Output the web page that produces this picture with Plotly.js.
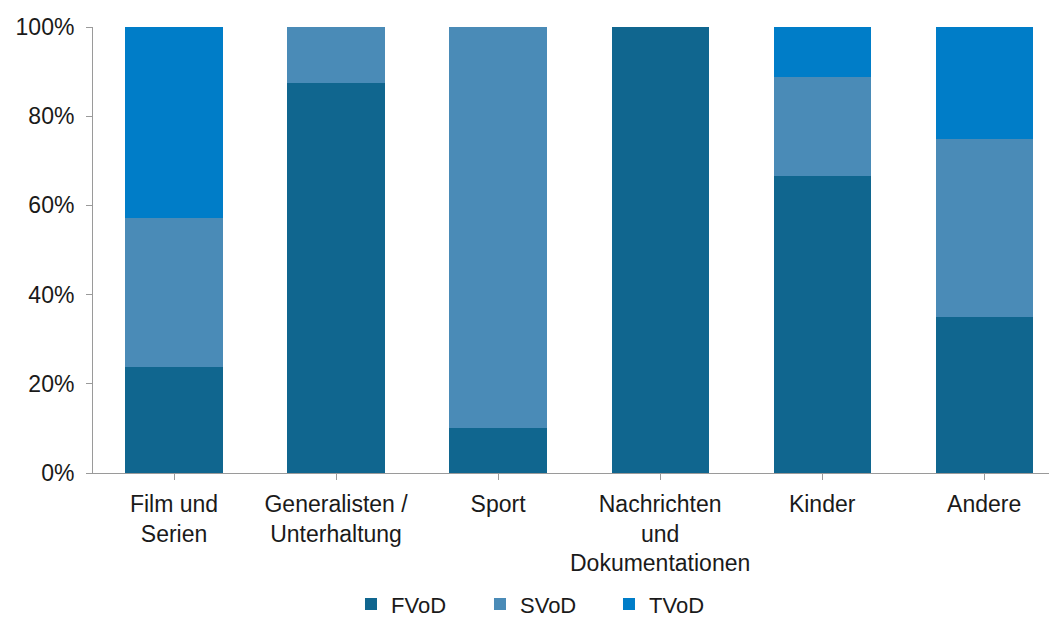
<!DOCTYPE html>
<html><head><meta charset="utf-8">
<script src="https://cdn.plot.ly/plotly-3.0.1.min.js"></script>
<style>body{margin:0;background:#fff}#c{width:1049px;height:619px}</style>
</head><body><div id="c"></div>
<script>
var categories = ["Film und<br>Serien","Generalisten /<br>Unterhaltung","Sport","Nachrichten<br>und<br>Dokumentationen","Kinder","Andere"];
var fvod = [23.8, 87.5, 10, 100, 66.7, 35];
var svod = [33.3, 12.5, 90, 0, 22.2, 40];
var tvod = [42.9, 0, 0, 0, 11.1, 25];
var seriesNames = ["FVoD","SVoD","TVoD"];
var colors = ["#10668F","#4A8BB7","#007DC8"];
var yTicks = [0,20,40,60,80,100];
var yTickText = ["0%","20%","40%","60%","80%","100%"];

var font = {family:"Liberation Sans, Arial, sans-serif", size:23, color:"#1a1a1a"};
var legendFont = {family:"Liberation Sans, Arial, sans-serif", size:22, color:"#1a1a1a"};
var data = [fvod, svod, tvod].map(function(v,i){
  return {type:"bar", x:categories.map(function(_,k){return k;}), y:v, name:seriesNames[i],
    marker:{color:colors[i], line:{width:0}}, hoverinfo:"y+name"};
});
var layout = {
  width:1049, height:619, barmode:"stack", bargap:0.4,
  margin:{l:93, r:0, t:27, b:146, autoexpand:false},
  paper_bgcolor:"#fff", plot_bgcolor:"#fff", font:font, showlegend:true,
  xaxis:{range:[-0.5,5.4], tickmode:"array", tickvals:[0,1,2,3,4,5], ticktext:categories,
    showgrid:false, zeroline:false, showline:true, linecolor:"#9a9a9a", linewidth:1,
    ticks:"outside", tickson:"boundaries", ticklen:6, tickcolor:"#9a9a9a", tickangle:0,
    ticklabelstandoff:4, automargin:false, tickfont:font, fixedrange:true},
  yaxis:{range:[0,100], tickmode:"array", tickvals:yTicks, ticktext:yTickText,
    showgrid:false, zeroline:false, showline:true, linecolor:"#9a9a9a", linewidth:1,
    ticks:"outside", ticklen:6, tickcolor:"#9a9a9a", ticklabelstandoff:7,
    automargin:false, tickfont:font, fixedrange:true},
  legend:{orientation:"h", xref:"container", yref:"container", x:0.3346, xanchor:"left",
    y:0.024, yanchor:"middle",
    font:legendFont, traceorder:"normal", itemwidth:30, entrywidth:84, bgcolor:"rgba(0,0,0,0)"}
};
Plotly.newPlot("c", data, layout, {displayModeBar:false, staticPlot:true});
</script></body></html>
